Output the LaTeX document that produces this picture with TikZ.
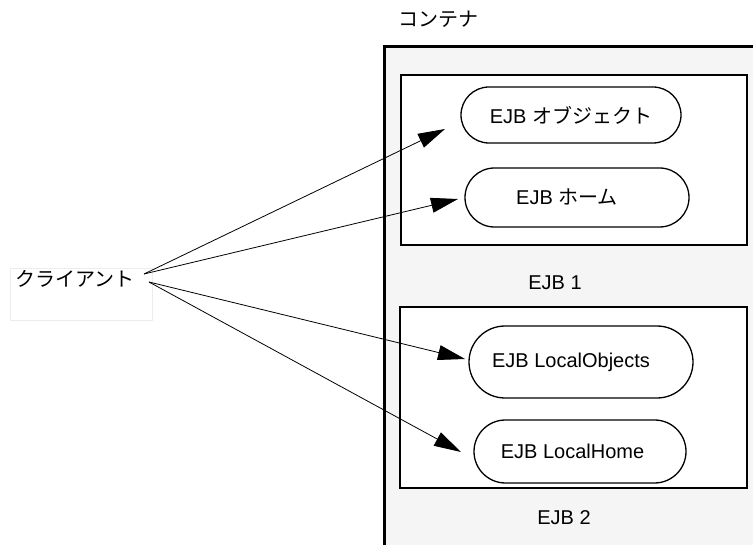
\documentclass[tikz,border=0pt]{standalone}
\usepackage{fontspec}
\setmainfont{Liberation Sans}
\newfontfamily\jp{Noto Sans CJK JP}
\usetikzlibrary{arrows.meta,shapes.misc}

\definecolor{cfill}{HTML}{F5F5F5}
\tikzset{
  ejbbox/.style={draw, line width=2.2pt, fill=white},
  oval/.style={rounded rectangle, draw, line width=1.3pt, fill=white, inner sep=0pt},
  call/.style={-{Triangle[length=27pt,width=15pt]}, line width=0.8pt},
}

\begin{document}
\begin{tikzpicture}[x=1pt,y=-1pt,font=\fontsize{20}{24}\selectfont]
    \useasboundingbox (0,0) rectangle (753,545);
    % container
    \fill[cfill] (384,47) rectangle (753,545);
    \draw[line width=3pt] (384,545) -- (384,47) -- (753,47);
    \node (cont) at (438,19) {\jp コンテナ};
    % EJB 1
    \draw[ejbbox] (401,75) rectangle (747,245);
    \node[oval, minimum width=220pt, minimum height=56pt] (obj) at (571,115) {EJB {\jp オブジェクト}};
    \node[oval, minimum width=224pt, minimum height=59pt] (home) at (577,197.5) {\hspace*{-20pt}EJB {\jp ホーム}};
    \node (ejb1) at (555,282.5) {EJB 1};
    % EJB 2
    \draw[ejbbox] (400,307) rectangle (747,488);
    \node[oval, minimum width=224pt, minimum height=72pt] (lobj) at (581,362) {\hspace*{-20pt}EJB LocalObjects};
    \node[oval, minimum width=212pt, minimum height=63pt] (lhome) at (580,451.5) {\hspace*{-15pt}EJB LocalHome};
    \node (ejb2) at (564,517.5) {EJB 2};
    % client
    \draw[black!7] (10,268) rectangle (152,320);
    \node[anchor=base west, inner sep=0pt] (client) at (15,287) {\jp クライアント};
    \coordinate (c1) at (144,274);
    \coordinate (c2) at (149,282);
    \coordinate (t1) at (445,129);
    \coordinate (t2) at (458,199);
    \coordinate (t3) at (465,359);
    \coordinate (t4) at (461,452);
    \draw[call] (c1) -- (t1);
    \draw[call] (c1) -- (t2);
    \draw[call] (c2) -- (t3);
    \draw[call] (c2) -- (t4);
\end{tikzpicture}
\end{document}
